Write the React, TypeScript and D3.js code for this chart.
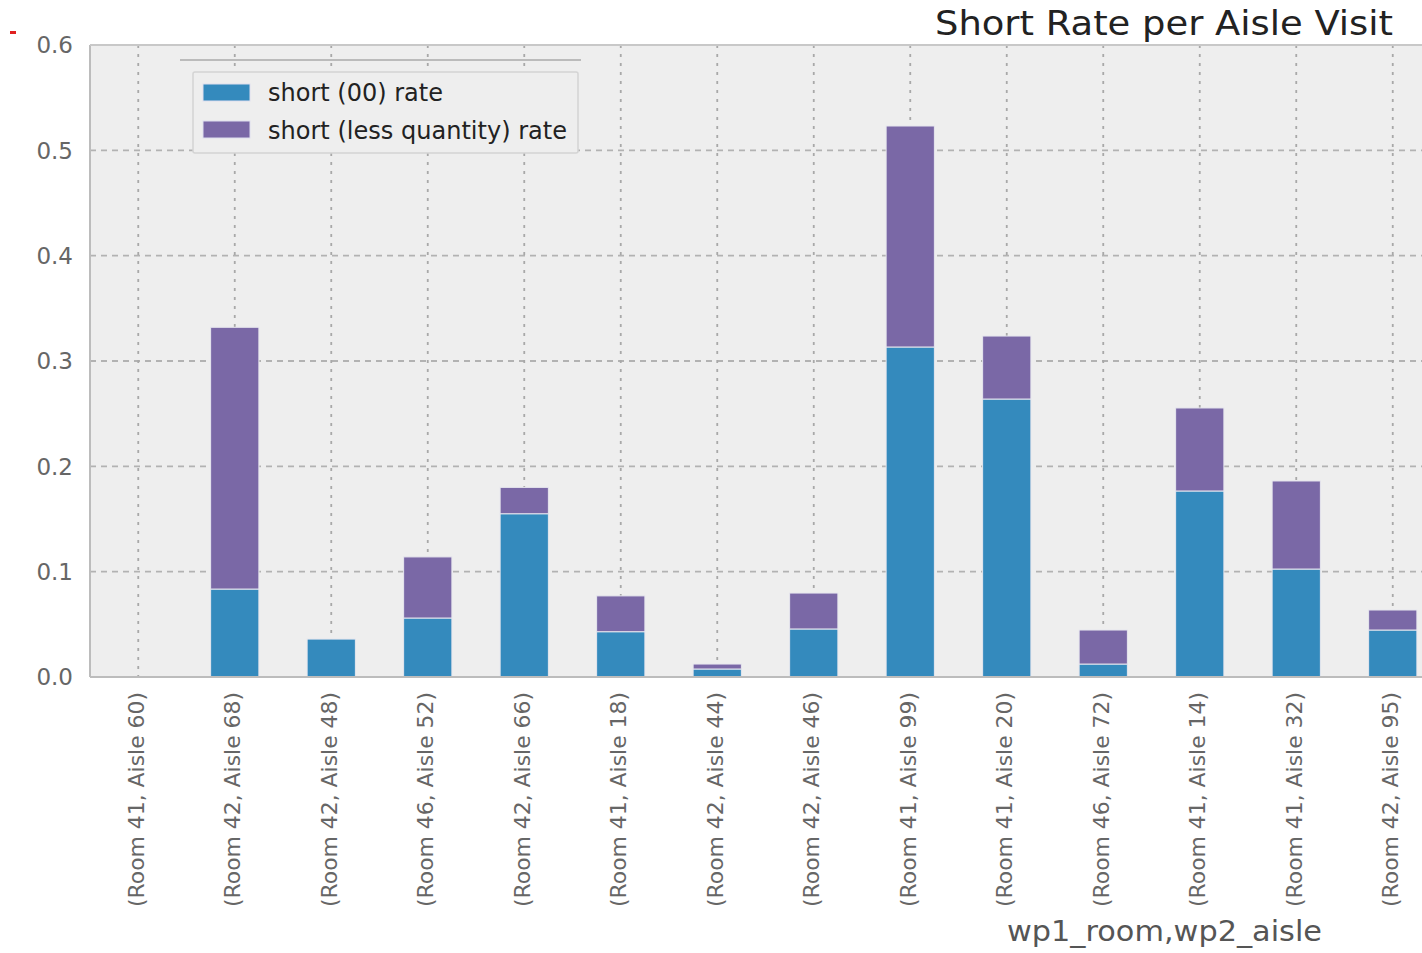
import React, { useEffect } from "react";
import * as d3 from "d3";

const categories = [
  "(Room 41, Aisle 60)",
  "(Room 42, Aisle 68)",
  "(Room 42, Aisle 48)",
  "(Room 46, Aisle 52)",
  "(Room 42, Aisle 66)",
  "(Room 41, Aisle 18)",
  "(Room 42, Aisle 44)",
  "(Room 42, Aisle 46)",
  "(Room 41, Aisle 99)",
  "(Room 41, Aisle 20)",
  "(Room 46, Aisle 72)",
  "(Room 41, Aisle 14)",
  "(Room 41, Aisle 32)",
  "(Room 42, Aisle 95)",
];
const shortZeroRate = [0, 0.0835, 0.036, 0.056, 0.155, 0.043, 0.0076, 0.0456, 0.3133, 0.2639, 0.0123, 0.1766, 0.1025, 0.0446];
const shortLessQtyRate = [0, 0.2485, 0, 0.058, 0.025, 0.034, 0.0047, 0.0341, 0.2098, 0.0598, 0.0323, 0.0788, 0.0836, 0.019];
const seriesNames = ["short (00) rate", "short (less quantity) rate"];
const seriesColors = ["#348ABD", "#7A68A6"];
const yTicks = [0, 0.1, 0.2, 0.3, 0.4, 0.5, 0.6];
const title = "Short Rate per Aisle Visit";
const xLabel = "wp1_room,wp2_aisle";

const W = 1422;
const H = 953;
const left = 90;
const top = 45;
const bottom = 677;
const rightEnd = 1441;

export default function App() {
  useEffect(() => {
    document.body.style.margin = "0";
  }, []);

  const x = d3
    .scaleBand<string>()
    .domain(categories)
    .range([left, rightEnd])
    .paddingInner(0.5)
    .paddingOuter(0.25);
  const y = d3.scaleLinear().domain([0, 0.6]).range([bottom, top]);

  const rows = categories.map((c, i) => ({ cat: c, a: shortZeroRate[i], b: shortLessQtyRate[i] }));
  const stacked = d3.stack<any>().keys(["a", "b"])(rows);

  const font = "DejaVu Sans, sans-serif";

  return (
    <svg width={W} height={H} style={{ position: "absolute", left: 0, top: 0, display: "block", background: "#fff" }}>
      <rect x={10} y={31} width={6} height={3} fill="#e02020" />
      {/* plot background */}
      <rect x={left} y={top} width={rightEnd - left} height={bottom - top} fill="#eeeeee" />
      {/* horizontal grid */}
      {yTicks.map((t) => (
        <line key={"h" + t} x1={left} x2={rightEnd} y1={y(t)} y2={y(t)} stroke="#b2b2b2" strokeWidth={1.8} strokeDasharray="6,5" />
      ))}
      {/* vertical grid */}
      {categories.map((c) => {
        const cx = (x(c) as number) + x.bandwidth() / 2;
        return <line key={"v" + c} x1={cx} x2={cx} y1={top} y2={bottom} stroke="#a8a8a8" strokeWidth={1.8} strokeDasharray="3,6" />;
      })}
      {/* bars */}
      {stacked.map((s, si) => (
        <g key={"s" + si}>
          {s.map((d, i) => {
            const h = y(d[0]) - y(d[1]);
            if (h <= 0) return null;
            return (
              <rect
                key={i}
                x={x(categories[i]) as number}
                y={y(d[1])}
                width={x.bandwidth()}
                height={h}
                fill={seriesColors[si]}
                stroke="#e6e6ee"
                strokeWidth={1}
              />
            );
          })}
        </g>
      ))}
      {/* spines */}
      <line x1={left} x2={left} y1={top} y2={bottom} stroke="#bcbcbc" strokeWidth={2} />
      <line x1={left} x2={W} y1={bottom} y2={bottom} stroke="#bcbcbc" strokeWidth={2} />
      <line x1={left} x2={W} y1={top} y2={top} stroke="#c8c8c8" strokeWidth={2} />
      {/* y tick labels */}
      {yTicks.map((t) => (
        <text key={"yl" + t} x={73} y={y(t)} dy="0.36em" textAnchor="end" fontFamily={font} fontSize={23} fill="#666">
          {t.toFixed(1)}
        </text>
      ))}
      {/* x tick labels */}
      {categories.map((c) => {
        const cx = (x(c) as number) + x.bandwidth() / 2 - 2;
        return (
          <text
            key={"xl" + c}
            transform={`translate(${cx},692) rotate(-90)`}
            textAnchor="end"
            dominantBaseline="central"
            fontFamily={font}
            fontSize={22}
            fill="#666"
            textLength={215}
            lengthAdjust="spacingAndGlyphs"
          >
            {c}
          </text>
        );
      })}
      {/* x axis label */}
      <text x={1007} y={941} fontFamily={font} fontSize={28} fill="#555" textLength={315} lengthAdjust="spacingAndGlyphs">
        {xLabel}
      </text>
      {/* title */}
      <text x={935} y={35} fontFamily={font} fontSize={33} fill="#222" textLength={458} lengthAdjust="spacingAndGlyphs">
        {title}
      </text>
      {/* artifact line above legend */}
      <line x1={180} x2={581} y1={60} y2={60} stroke="#888" strokeWidth={1} />
      {/* legend */}
      <g>
        <rect x={193} y={72} width={385} height={81} fill="#eeeeee" stroke="#d4d4d4" strokeWidth={1.5} rx={2} />
        {seriesNames.map((n, i) => (
          <g key={n}>
            <rect x={203} y={84 + i * 37} width={47} height={17} fill={seriesColors[i]} stroke="#dde" strokeWidth={1} />
            <text
              x={268}
              y={92 + i * 38}
              dy="0.36em"
              fontFamily={font}
              fontSize={24}
              fill="#222"
              textLength={i === 0 ? 175 : 299}
              lengthAdjust="spacingAndGlyphs"
            >
              {n}
            </text>
          </g>
        ))}
      </g>
    </svg>
  );
}
